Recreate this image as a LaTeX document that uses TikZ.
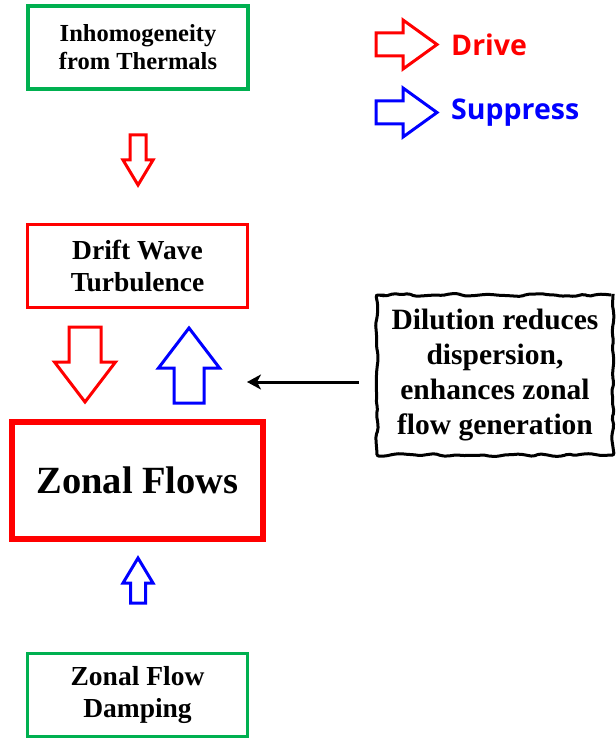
\documentclass[tikz,border=0pt]{standalone}
\usepackage{fontspec}
\setmainfont{Liberation Serif}
\newfontfamily\legendfont{Open Sans}
\usetikzlibrary{arrows.meta,decorations.pathmorphing}
\definecolor{boxgreen}{RGB}{0,176,80}

\begin{document}
\begin{tikzpicture}[x=1pt, y=1pt]
\tikzset{
    causebox/.style={rectangle, draw=boxgreen, line width=3.5pt, minimum width=220pt, minimum height=83pt, align=center, inner sep=0pt, font=\fontsize{27.5}{32}\selectfont\bfseries},
    turbbox/.style={causebox, draw=red},
    flowbox/.style={rectangle, draw=red, line width=5.5pt, minimum width=251pt, minimum height=117pt, inner sep=0pt, font=\fontsize{38.5}{42}\selectfont\bfseries},
    notebox/.style={rectangle, draw, line width=3pt, minimum width=236pt, minimum height=160pt, align=center, inner sep=0pt, font=\fontsize{29.5}{35}\selectfont\bfseries, decorate, decoration={random steps, segment length=7pt, amplitude=1.5pt}, rounded corners=2pt},
    legendtext/.style={anchor=west, inner sep=0pt, font=\fontsize{28.5}{32}\legendfont\bfseries},
    linkarrow/.style={-{Stealth[length=14pt, width=15pt, inset=4pt]}, line width=3pt},
    pics/fatarrow/.style n args={4}{code={
        \draw[line width=3pt, line join=miter] (0,-#2/2) -- (#1-#4,-#2/2) -- (#1-#4,-#3/2) -- (#1,0) -- (#1-#4,#3/2) -- (#1-#4,#2/2) -- (0,#2/2) -- cycle;
    }}
}
\useasboundingbox (0,0) rectangle (615,-738);

% boxes
\node[causebox, font=\fontsize{24.5}{28}\selectfont\bfseries] (thermals) at (138,-47.5) {Inhomogeneity\\from Thermals};
\node[turbbox] (turbulence) at (137.5,-266) {Drift Wave\\Turbulence};
\node[flowbox] (zonal) at (137.5,-480.5) {Zonal Flows};
\node[causebox] (damping) at (137.5,-695) {Zonal Flow\\Damping};
\node[notebox] (dilution) at (495,-375) {Dilution reduces\\dispersion,\\enhances zonal\\flow generation};

% legend
\pic[red] at (376,-44.5) {fatarrow={61}{23}{49}{34}};
\pic[blue] at (376,-112.5) {fatarrow={61}{23}{49}{34}};
\node[legendtext, red] (drive) at (451,-45) {Drive};
\node[legendtext, blue] (suppress) at (451,-113) {Suppress};

% drive / suppress arrows
\pic[red, rotate=-90] at (138,-135) {fatarrow={50}{16}{30}{25}};
\pic[red, rotate=-90] at (85,-327) {fatarrow={75}{32}{61}{40}};
\pic[blue, rotate=90] at (189,-403) {fatarrow={75}{30}{61}{40}};
\pic[blue, rotate=90] at (138,-603) {fatarrow={45}{15}{30}{25}};

\coordinate (tip) at (247,-382);
\draw[linkarrow, shorten <=17pt] ([yshift=-7pt]dilution.west) -- (tip);

\end{tikzpicture}
\end{document}
